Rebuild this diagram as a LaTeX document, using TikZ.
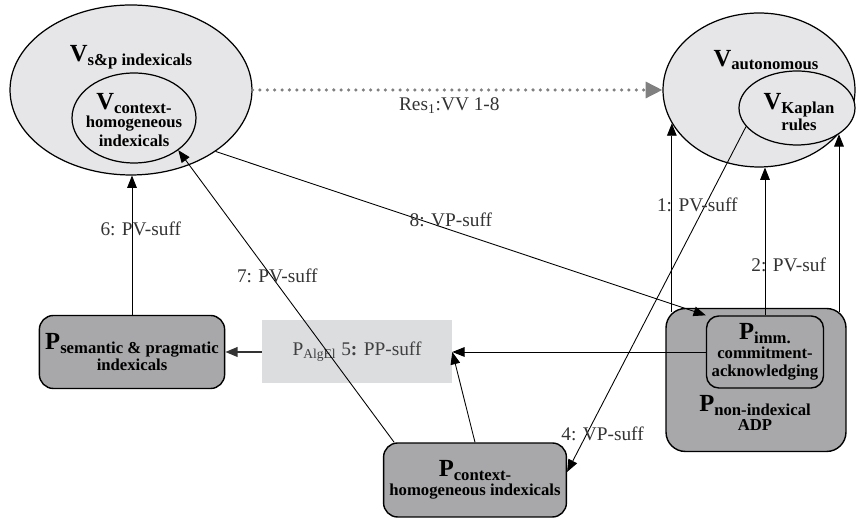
\documentclass[tikz,border=0pt]{standalone}
\usepackage{fontspec}
\setmainfont{Liberation Serif}
\usepackage{tikz}
\usetikzlibrary{arrows.meta,positioning,shapes.geometric,calc}
\definecolor{vfill}{HTML}{E6E6E8}
\definecolor{pfill}{HTML}{A8A8AA}
\definecolor{algfill}{HTML}{DCDDDF}
\newcommand{\bigsym}[2]{{\fontsize{14}{14}\selectfont #1}\raisebox{-0.5ex}{#2}}

\begin{document}
\begin{tikzpicture}[
  x=0.02cm, y=-0.02cm,
  font=\fontsize{11}{13}\selectfont,
  vset/.style={ellipse, draw, fill=vfill, line width=0.7pt, inner sep=0pt},
  pbox/.style={rectangle, draw, fill=pfill, line width=0.8pt, align=center,
               font=\fontsize{9.5}{10.5}\selectfont\bfseries},
  vtext/.style={align=center, inner sep=0pt,
                font=\fontsize{9.5}{10.5}\selectfont\bfseries},
  arr/.style={-{Triangle[length=7pt,width=5.5pt]}, line width=0.5pt},
  resarr/.style={-{Triangle[length=9.5pt,width=9pt]}, draw=black!50, line width=2pt,
                 dash pattern=on 0pt off 4.2pt, line cap=round},
  lbl/.style={text=black!80, inner sep=1pt}
]
  \useasboundingbox (0,0) rectangle (860,519);

  % value sets
  \node[vset, minimum width=4.84cm, minimum height=3.4cm] (vsp) at (131,90) {};
  \node[vset, minimum width=2.48cm, minimum height=1.8cm] (vctx) at (134,118) {};
  \node[vset, minimum width=3.84cm, minimum height=3.08cm] (vaut) at (759,90) {};
  \node[vset, minimum width=2.32cm, minimum height=1.48cm] (vkap) at (797,108) {};
  \node[vtext] (vspt) at (131,57) {\bigsym{V}{s\&p indexicals}};
  \node[vtext] (vctxt) at (134,120) {\bigsym{V}{context-}\\homogeneous\\indexicals};
  \node[vtext] (vautt) at (766,60) {\bigsym{V}{autonomous}};
  \node[vtext] (vkapt) at (799,112) {\bigsym{V}{Kaplan}\\rules};

  % procedures
  \node[pbox, rounded corners=8pt, minimum width=3.6cm, minimum height=1.46cm]
    (lsem) at (132,352) {\bigsym{P}{semantic \& pragmatic}\\indexicals};
  \node[rectangle, fill=algfill, minimum width=3.8cm, minimum height=1.26cm,
        text=black!75] (alg) at (357,352) {P\textsubscript{AlgEl} 5\textbf{:} PP-suff};
  \node[pbox, rounded corners=8pt, minimum width=3.6cm, minimum height=1.48cm]
    (pctx) at (475,480) {\bigsym{P}{context-}\\homogeneous indexicals};
  \node[pbox, rounded corners=11pt, minimum width=3.6cm, minimum height=2.86cm]
    (pnon) at (756,380) {};
  \node[vtext] (pnont) at (755,413) {\bigsym{P}{non-indexical}\\ADP};
  \node[pbox, rounded corners=7pt, minimum width=2.34cm, minimum height=1.44cm,
        inner sep=1pt] (pimm) at (765,352) {\bigsym{P}{imm.}\\commitment-\\acknowledging};

  % connectors
  \draw[resarr] (vsp.east) -- node[lbl, pos=0.48, yshift=-9pt] {Res\textsubscript{1}:VV 1-8} (vaut.west);
  \draw[arr] (lsem.north) -- node[lbl, pos=0.62, xshift=5pt] {6: PV-suff} (lsem.north |- vsp.south);
  \draw[arr] (pctx.155) -- node[lbl, pos=0.57, xshift=3.5pt] {7: PV-suff} (vctx.-36);
  \draw[arr] (vsp.-36) -- node[lbl, pos=0.48, yshift=6pt] {8: VP-suff} (pimm.north west);
  \draw[arr] (pimm.west) -- (alg.east);
  \draw[arr] (pctx.north) -- (alg.east);
  \draw[arr, draw=black!80, line width=1.1pt] (alg.west) -- (lsem.east);
  \draw[arr] (vkap.200) -- node[lbl, pos=0.89, xshift=9pt] {4: VP-suff} (pctx.5);
  \draw[arr] ([yshift=-2.5pt]vaut.201.6 |- pnon.north) -- node[lbl, pos=0.57, xshift=14.5pt] {1: PV-suff} (vaut.201.6);
  \draw[arr] (pimm.north) -- node[lbl, pos=0.34, xshift=13.5pt] {2: PV-suf} (pimm.north |- vaut.south);
  \draw[arr] ([yshift=-2.5pt]vkap.-32.4 |- pnon.north) -- (vkap.-32.4);
\end{tikzpicture}
\end{document}
